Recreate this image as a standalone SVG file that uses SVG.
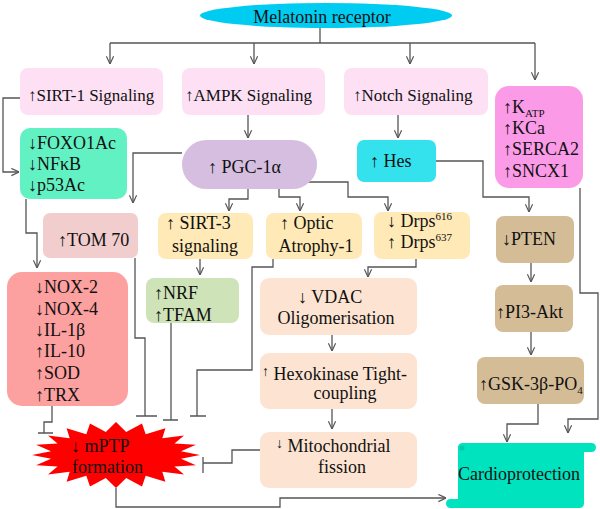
<svg xmlns="http://www.w3.org/2000/svg" width="600" height="509" viewBox="0 0 600 509">
<defs>
<marker id="arr" viewBox="0 0 10 10" refX="9.5" refY="5" markerWidth="9" markerHeight="9" markerUnits="userSpaceOnUse" orient="auto">
<path d="M1,1 L9.5,5 L1,9" fill="none" stroke="#555" stroke-width="1.3"/>
</marker>
</defs>
<style>
text{font-family:"Liberation Serif","Times New Roman",serif;font-size:18px;fill:#111}
.s17{font-size:17px}
.c{text-anchor:middle}
.ln{fill:none;stroke:#555;stroke-width:1.3}
.ar{marker-end:url(#arr)}
.pink{fill:#fde0f4}
.yel{fill:#ffe9b6}
.peach{fill:#fde4d2}
.tan{fill:#d4bc97}
.sub{font-size:11px}
</style>
<rect width="600" height="509" fill="#fff"/>

<g id="connectors">
<path class="ln" d="M320,28 V43 M110,43 H535"/>
<path class="ln ar" d="M110,43 V64"/>
<path class="ln ar" d="M254,43 V64"/>
<path class="ln ar" d="M410,43 V64"/>
<path class="ln ar" d="M535,43 V80"/>
<path class="ln ar" d="M20,98 H3 V172 H19"/>
<path class="ln ar" d="M248,115 V138"/>
<path class="ln ar" d="M182,153 H133 V203"/>
<path class="ln ar" d="M248,189 V199 H229 V211"/>
<path class="ln ar" d="M279,189 V197 H300 V211"/>
<path class="ln ar" d="M308,182 H348 V197 H388 V211"/>
<path class="ln ar" d="M398,115 V138"/>
<path class="ln ar" d="M436,161 H483 V197 H529 V212"/>
<path class="ln ar" d="M531,263 V282"/>
<path class="ln ar" d="M531,332 V355"/>
<path class="ln ar" d="M538,404 V424 H507 V442"/>
<path class="ln ar" d="M580,188 V293 H598 V419 H568 V433"/>
<path class="ln ar" d="M26,199 V233 H37 V268"/>
<path class="ln ar" d="M200,259 V275"/>
<path class="ln ar" d="M416,259 V267 H368 V277"/>
<path class="ln ar" d="M332,335 V351"/>
<path class="ln ar" d="M332,409 V429"/>
<path class="ln ar" d="M116,488 V507 H280 V498 H446"/>
<path class="ln" d="M135,258 V338 H145 V416 M136,416 H157"/>
<path class="ln" d="M171,323 V420 M163,420 H178"/>
<path class="ln" d="M273,259 V267 H252 V370 H197 V416 M190,416 H206"/>
<path class="ln" d="M52,406 V422 H44 V433 M38,433 H53"/>
<path class="ln" d="M260,450 H232 V463 H203 M203,457 V473"/>
</g>

<g id="melatonin">
<ellipse cx="326" cy="15.5" rx="126" ry="12.5" fill="#00ccf2"/>
<text class="c" x="322" y="22.5">Melatonin receptor</text>
</g>

<g id="sirt1">
<rect class="pink" x="20" y="68" width="143" height="47" rx="8"/>
<text class="s17" x="28" y="101">↑SIRT-1 Signaling</text>
</g>
<g id="ampk">
<rect class="pink" x="182" y="68" width="143" height="47" rx="8"/>
<text class="s17" x="185" y="101">↑AMPK Signaling</text>
</g>
<g id="notch">
<rect class="pink" x="344" y="68" width="144" height="47" rx="8"/>
<text class="s17" x="353" y="101">↑Notch Signaling</text>
</g>
<g id="katp">
<rect x="495" y="86" width="88" height="102" rx="14" fill="#fb9be8"/>
<text x="503" y="113">↑K<tspan class="sub" dy="4">ATP</tspan></text>
<text x="503" y="134">↑KCa</text>
<text x="503" y="155">↑SERCA2</text>
<text x="503" y="177">↑SNCX1</text>
</g>

<g id="foxo">
<rect x="20" y="128" width="107" height="71" rx="10" fill="#62f1c3"/>
<text x="28" y="149">↓FOXO1Ac</text>
<text x="28" y="170">↓NFκB</text>
<text x="28" y="191">↓p53Ac</text>
</g>

<g id="pgc">
<rect x="182" y="140" width="135" height="49" rx="24.5" fill="#d6bee0"/>
<text x="208" y="173">↑ PGC-1α</text>
</g>

<g id="hes">
<rect x="357" y="140" width="79" height="42" rx="7" fill="#34e2ed"/>
<text x="370" y="167">↑ Hes</text>
</g>

<g id="tom70">
<rect x="43" y="213" width="95" height="45" rx="7" fill="#f1cdcd"/>
<text x="58" y="246">↑TOM 70</text>
</g>

<g id="sirt3">
<rect class="yel" x="158" y="213" width="95" height="46" rx="8"/>
<text x="166" y="229">↑ SIRT-3</text>
<text class="c" x="205" y="252">signaling</text>
</g>
<g id="optic">
<rect class="yel" x="266" y="213" width="96" height="46" rx="8"/>
<text x="280" y="229">↑ Optic</text>
<text class="c" x="316" y="252">Atrophy-1</text>
</g>
<g id="drps">
<rect class="yel" x="374" y="212" width="96" height="47" rx="8"/>
<text x="387" y="227">↓ Drps<tspan class="sub" dy="-7">616</tspan></text>
<text x="387" y="248">↑ Drps<tspan class="sub" dy="-7">637</tspan></text>
</g>

<g id="pten">
<rect class="tan" x="496" y="216" width="78" height="47" rx="8"/>
<text x="502" y="245">↓PTEN</text>
</g>
<g id="pi3akt">
<rect class="tan" x="495" y="285" width="78" height="47" rx="8"/>
<text x="496" y="318">↑PI3-Akt</text>
</g>
<g id="gsk">
<rect class="tan" x="477" y="357" width="107" height="47" rx="8"/>
<text x="479" y="390">↑GSK-3β-PO<tspan class="sub" dy="4">4</tspan></text>
</g>

<g id="nox">
<rect x="7" y="272" width="121" height="134" rx="15" fill="#fda0a0"/>
<text x="35" y="293">↓NOX-2</text>
<text x="35" y="315">↓NOX-4</text>
<text x="35" y="336">↓IL-1β</text>
<text x="35" y="357">↑IL-10</text>
<text x="35" y="379">↑SOD</text>
<text x="35" y="401">↑TRX</text>
</g>

<g id="nrf">
<rect x="146" y="278" width="93" height="45" rx="8" fill="#cee3b7"/>
<text x="154" y="299">↑NRF</text>
<text x="154" y="321">↑TFAM</text>
</g>

<g id="vdac">
<rect class="peach" x="260" y="278" width="157" height="57" rx="9"/>
<text x="298" y="303">↓ VDAC</text>
<text class="c" x="336" y="324">Oligomerisation</text>
</g>
<g id="hexokinase">
<rect class="peach" x="260" y="353" width="157" height="56" rx="9"/>
<text x="262" y="380"><tspan font-size="14" dy="-4">↑</tspan><tspan dy="4"> Hexokinase Tight-</tspan></text>
<text class="c" x="345" y="399">coupling</text>
</g>
<g id="mito">
<rect class="peach" x="260" y="432" width="157" height="56" rx="9"/>
<text x="276" y="452"><tspan font-size="14" dy="-4">↓</tspan><tspan dy="4">  Mitochondrial</tspan></text>
<text class="c" x="342" y="473">fission</text>
</g>

<g id="mptp">
<polygon fill="#ff0000" points="200,455 181,458.7 195.9,465.2 174.5,466.4 184,474.4 162.3,471.7 165.4,481.7 145.7,475.7 142,486.4 126.2,478 116,488 105.8,478 90,486.4 86.3,475.7 66.6,481.7 69.7,471.7 48,474.4 57.5,466.4 36.1,465.2 51,458.7 32,455 51,451.3 36.1,444.8 57.5,443.6 48,435.6 69.7,438.3 66.6,428.3 86.3,434.3 90,423.6 105.8,432 116,422 126.2,432 142,423.6 145.7,434.3 165.4,428.3 162.3,438.3 184,435.6 174.5,443.6 195.9,444.8 181,451.3"/>
<text x="71" y="452" fill="#3a0000">↓ mPTP</text>
<text x="72" y="473" fill="#3a0000">formation</text>
</g>

<g id="cardioprotection">
<rect x="458" y="446" width="126" height="58" fill="#00e3bf"/>
<rect x="458" y="443" width="138" height="9" rx="4.5" fill="#00e3bf"/>
<rect x="446" y="499" width="138" height="9" rx="4.5" fill="#00e3bf"/>
<circle cx="462" cy="448" r="2.5" fill="#00c9a8"/>
<text class="c" x="519" y="480">Cardioprotection</text>
</g>
</svg>
